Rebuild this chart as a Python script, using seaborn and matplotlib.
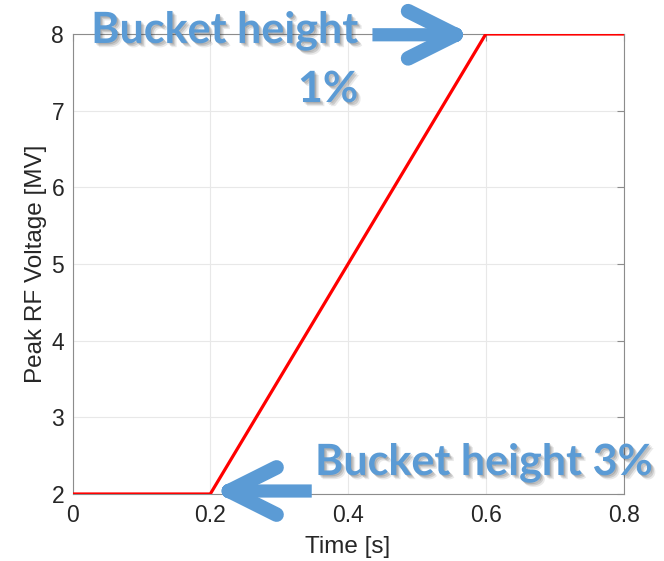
import matplotlib
matplotlib.use("Agg")
import matplotlib.pyplot as plt
import matplotlib.patheffects as pe
import pandas as pd
import seaborn as sns

# RF voltage programme: flat, linear ramp, flat
time_s = [0.0, 0.2, 0.6, 0.8]
voltage_mv = [2.0, 2.0, 8.0, 8.0]

x_ticks = [0, 0.2, 0.4, 0.6, 0.8]
x_tick_labels = ["0", "0.2", "0.4", "0.6", "0.8"]
y_ticks = [2, 3, 4, 5, 6, 7, 8]

note_top = ["Bucket height", "1%"]
note_bottom = "Bucket height 3%"

sns.set_theme(style="white")
plt.rcParams["font.family"] = ["Liberation Sans", "DejaVu Sans"]

fig = plt.figure(figsize=(6.64, 5.61), dpi=100)
ax = fig.add_axes([72.5 / 664, 1 - 494 / 561, 551.1 / 664, 460 / 561])

df = pd.DataFrame({"Time": time_s, "Voltage": voltage_mv})
sns.lineplot(data=df, x="Time", y="Voltage", ax=ax, color="#ff0000",
             linewidth=2.3, zorder=3)

ax.set_xlim(0, 0.8)
ax.set_ylim(2, 8)
ax.set_xticks(x_ticks)
ax.set_xticklabels(x_tick_labels)
ax.set_yticks(y_ticks)
ax.grid(True, color="#e8e8e8", linewidth=0.8)
ax.set_axisbelow(True)

for side in ["left", "right", "top", "bottom"]:
    ax.spines[side].set_visible(True)
    ax.spines[side].set_color("#8c8c8c")
    ax.spines[side].set_linewidth(0.8)

ax.tick_params(direction="in", length=5, width=0.8, color="#8c8c8c",
               top=True, right=True, labelsize=16.5, labelcolor="#262626",
               pad=6)
ax.tick_params(axis="x", pad=7.5)
ax.set_xlabel("Time [s]", fontsize=17.5, color="#262626", labelpad=6)
ax.set_ylabel("Peak RF Voltage [MV]", fontsize=17.5, color="#262626",
              labelpad=3)

blue = "#5b9bd5"
text_kw = dict(fontsize=31, fontweight="bold", color=blue,
               family=["Lato", "DejaVu Sans"], va="baseline",
               zorder=5, clip_on=False)

# soft drop shadow built from a few faint offset copies
soft_shadow = [
    pe.SimplePatchShadow(offset=(1.0, -1.0), shadow_rgbFace="#303030", alpha=0.18),
    pe.SimplePatchShadow(offset=(2.0, -2.0), shadow_rgbFace="#303030", alpha=0.16),
    pe.SimplePatchShadow(offset=(3.0, -3.0), shadow_rgbFace="#303030", alpha=0.10),
    pe.Normal(),
]

for txt in [
    ax.text(0.4145, 7.883, note_top[0], ha="right", **text_kw),
    ax.text(0.4145, 7.113, note_top[1], ha="right", **text_kw),
    ax.text(0.352, 2.248, note_bottom, ha="left", **text_kw),
]:
    txt.set_path_effects(soft_shadow)

# Arrow shafts (flat tail) and open heads with rounded arms
shaft_kw = dict(arrowstyle="-", color=blue, lw=9.5, capstyle="butt",
                shrinkA=0, shrinkB=0)
head_kw = dict(arrowstyle="->,head_length=34,head_width=17",
               mutation_scale=1, color=blue, lw=10.5, capstyle="round",
               joinstyle="round", shrinkA=0, shrinkB=0)

# top arrow, pointing right at the end of the ramp
ax.annotate("", xy=(0.5407, 7.99), xytext=(0.4354, 7.99),
            arrowprops=shaft_kw, annotation_clip=False, zorder=6)
ax.annotate("", xy=(0.5794, 7.99), xytext=(0.535, 7.99),
            arrowprops=head_kw, annotation_clip=False, zorder=6)

# bottom arrow, pointing left at the start of the ramp
ax.annotate("", xy=(0.2431, 2.039), xytext=(0.3473, 2.039),
            arrowprops=shaft_kw, annotation_clip=False, zorder=6)
ax.annotate("", xy=(0.204, 2.039), xytext=(0.25, 2.039),
            arrowprops=head_kw, annotation_clip=False, zorder=6)

fig.savefig("out.png", dpi=100)
